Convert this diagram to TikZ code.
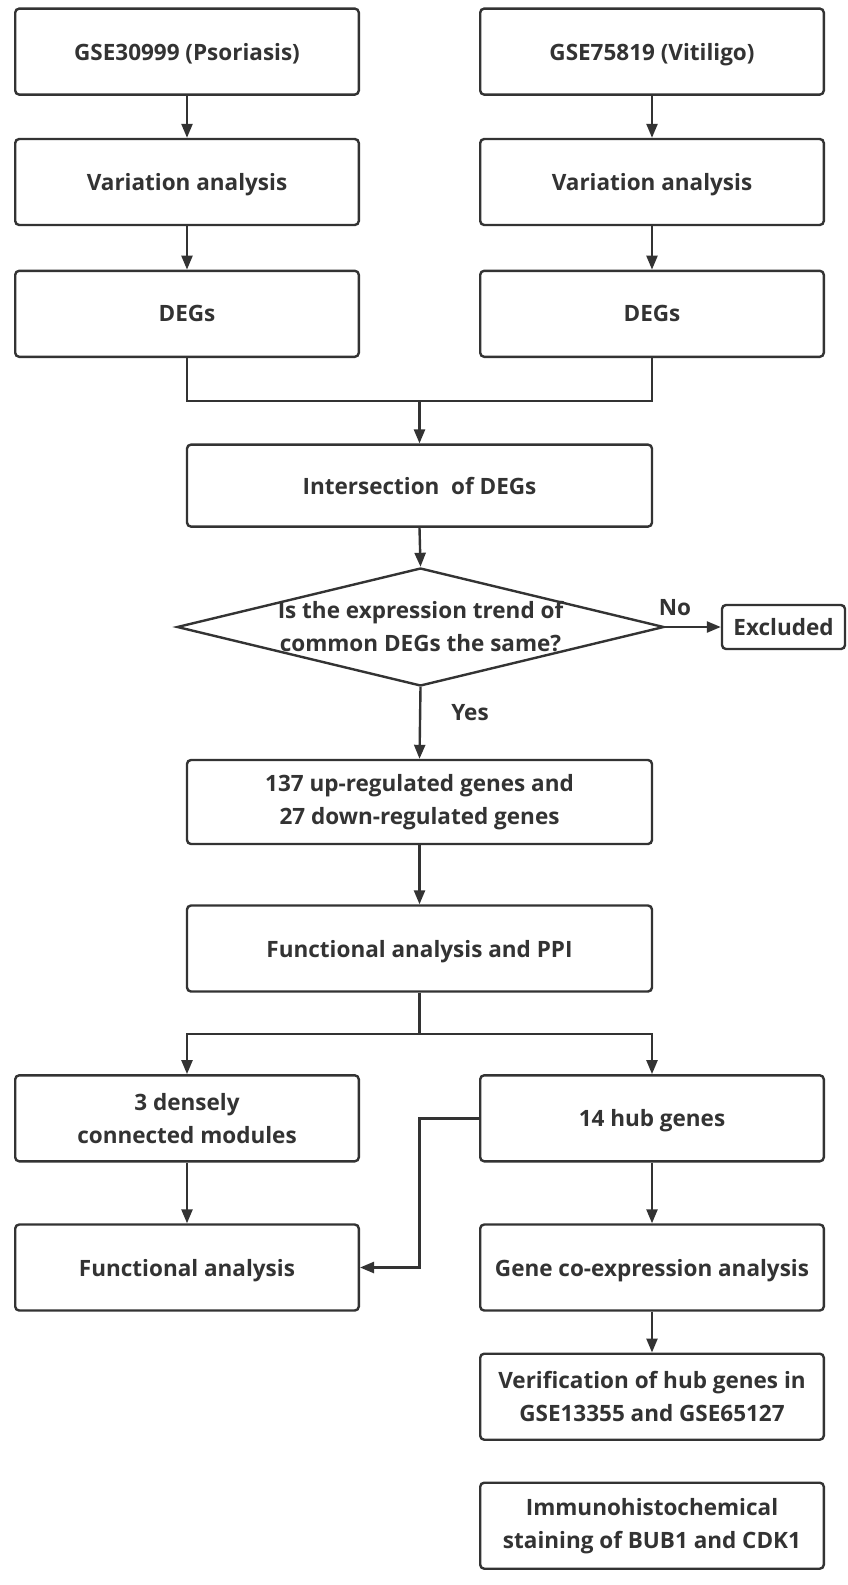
\documentclass[tikz,border=0pt]{standalone}
\usepackage{fontspec}
\setmainfont{Open Sans}
\usetikzlibrary{arrows.meta,shapes.geometric}
\definecolor{ink}{HTML}{333333}
\begin{document}
\begin{tikzpicture}[x=1pt,y=-1pt,
  txt/.style={font=\bfseries\fontsize{22.5}{33}\selectfont, text=ink, align=center},
  one/.style={text depth=0pt},
  box/.style={txt, draw=ink, line width=2.4pt, rounded corners=4pt, minimum width=343.6pt, minimum height=86pt, inner sep=0pt},
  arr/.style={draw=ink, line width=2.4pt, -{Triangle[width=11pt,length=14pt]}},
  ln/.style={draw=ink, line width=2.4pt}]
\useasboundingbox (0,0) rectangle (847,1585);
\fill[white] (0,0) rectangle (847,1585);
% nodes
\node[box, one] (a1) at (187,51.6) {GSE30999 (Psoriasis)};
\node[box, one] (b1) at (652,51.6) {GSE75819 (Vitiligo)};
\node[box, one] (a2) at (187,182) {Variation analysis};
\node[box, one] (b2) at (652,182) {Variation analysis};
\node[box, one] (a3) at (187,313.8) {DEGs};
\node[box, one] (b3) at (652,313.8) {DEGs};
\node[box, one, minimum width=465pt, minimum height=82pt] (int) at (419.5,485.6) {Intersection\ \ of DEGs};
\node[diamond, draw=ink, line width=2.4pt, minimum width=487pt, minimum height=118pt, inner sep=0pt] (dec) at (420.5,627) {};
\node[txt] (dect) at (dec.center) {Is the expression trend of\\common DEGs the same?};
\node[box, one, minimum width=123pt, minimum height=44pt] (exc) at (783.5,627) {Excluded};
\node[txt, one] (no) at (675,607.5) {No};
\node[txt, one] (yes) at (470,712.5) {Yes};
\node[box, minimum width=465pt, minimum height=84pt] (up) at (419.5,802) {137 up-regulated genes and\\27 down-regulated genes};
\node[box, one, minimum width=465pt, minimum height=86pt] (ppi) at (419.5,948.5) {Functional analysis and PPI};
\node[box] (mod) at (187,1118.3) {3 densely\\connected modules};
\node[box, one] (hub) at (652,1118.3) {14 hub genes};
\node[box, one] (fa) at (187,1267.5) {Functional analysis};
\node[box, one] (gce) at (652,1267.5) {Gene co-expression analysis};
\node[box] (ver) at (652,1396.7) {Verification of hub genes in\\GSE13355 and GSE65127};
\node[box] (imm) at (652,1525.7) {Immunohistochemical\\staining of BUB1 and CDK1};
% junctions
\coordinate (j1) at (419.5,401.2);
\coordinate (j2) at (419.5,1034);
\coordinate (k) at (419.5,1118.3);
% connectors
\draw[arr] (a1) -- (a2);
\draw[arr] (b1) -- (b2);
\draw[arr] (a2) -- (a3);
\draw[arr] (b2) -- (b3);
\draw[ln] (a3.south) |- (j1) -| (b3.south);
\draw[arr] (j1) -- (int.north);
\draw[arr] (int.south) -- (dec.north);
\draw[arr] (dec.east) -- (exc.west);
\draw[arr] (dec.south) -- (up.north);
\draw[arr] (up) -- (ppi);
\draw[ln] (ppi.south) -- (j2);
\draw[arr] (j2) -| (mod.north);
\draw[arr] (j2) -| (hub.north);
\draw[arr] (mod) -- (fa);
\draw[arr] (hub) -- (gce);
\draw[arr] (gce) -- (ver);
\draw[arr] (hub.west) -- (k) |- (fa.east);
\end{tikzpicture}
\end{document}
